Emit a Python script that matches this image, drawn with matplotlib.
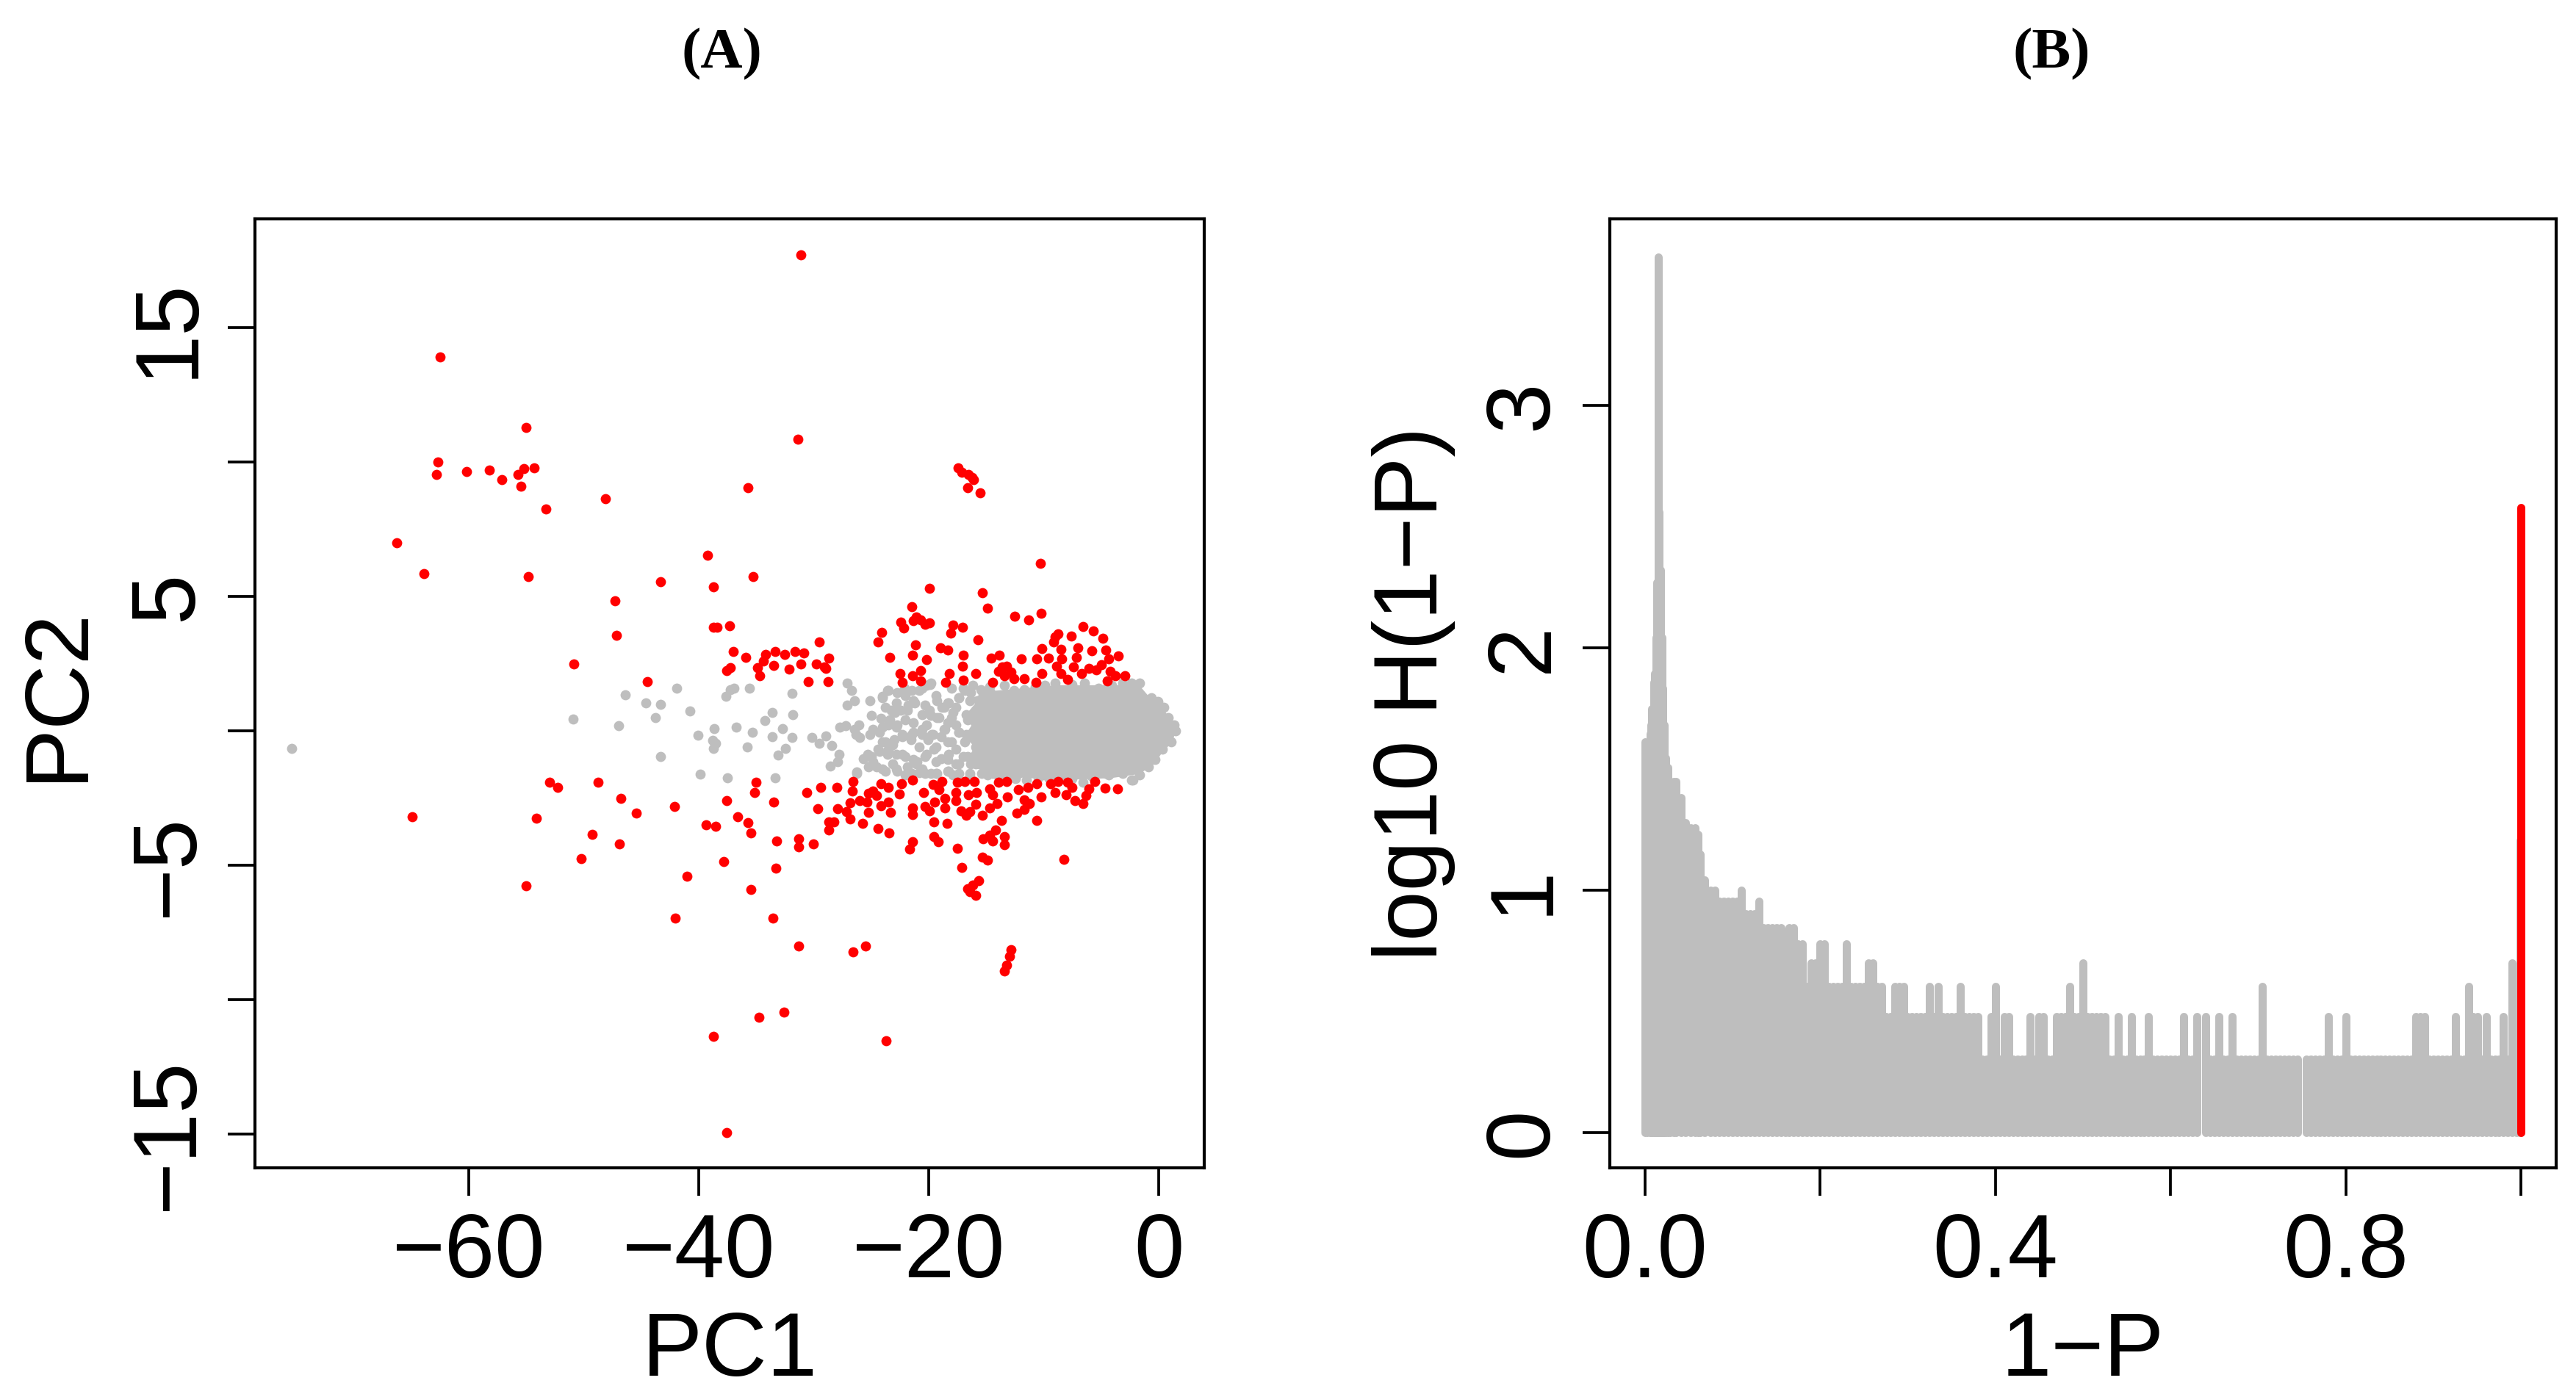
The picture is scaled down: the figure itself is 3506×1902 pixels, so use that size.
import numpy as np
import matplotlib

matplotlib.use("Agg")

import matplotlib.pyplot as plt

plt.rcParams["font.family"] = ["Liberation Sans", "DejaVu Sans"]

GREY = "#BEBEBE"
RED = "#FF0000"
DPI = 300
W_PX, H_PX = 3506, 1902

# ---------------- panel A: PCA scores (PC1, PC2) ----------------
# significant genes, far from the main cloud (PC1 < -30.5)
red_far = [
    (-31.1, 17.7), (-62.5, 13.9), (-55.0, 11.3), (-31.4, 10.85), (-62.7, 10.0),
    (-62.8, 9.55), (-60.2, 9.65), (-58.2, 9.7), (-57.15, 9.35), (-55.7, 9.55),
    (-55.2, 9.75), (-54.3, 9.8), (-55.5, 9.1), (-53.3, 8.25), (-48.1, 8.65),
    (-35.7, 9.05), (-66.3, 7.0), (-63.9, 5.85), (-54.85, 5.75), (-39.25, 6.55),
    (-43.3, 5.55), (-38.7, 5.35), (-35.25, 5.75), (-47.3, 4.85), (-47.15, 3.55),
    (-38.7, 3.85), (-38.4, 3.85), (-37.3, 3.9), (-50.85, 2.5), (-44.5, 1.85),
    (-37.0, 2.95), (-35.9, 2.75), (-37.55, 2.25), (-37.25, 2.35), (-34.9, 2.35),
    (-34.7, 2.05), (-34.4, 2.6), (-34.2, 2.85), (-33.5, 2.45), (-33.35, 2.95),
    (-32.55, 2.85), (-32.15, 2.3), (-31.65, 2.95), (-31.15, 2.5), (-30.9, 2.9),
    (-30.5, 1.85),
    (-64.9, -3.2), (-55.0, -5.75), (-53.0, -1.9), (-52.3, -2.1), (-54.15, -3.25),
    (-48.75, -1.9), (-46.75, -2.5), (-45.45, -3.05), (-49.25, -3.85), (-50.2, -4.75),
    (-46.9, -4.2), (-42.1, -2.8), (-41.0, -5.4), (-42.05, -6.95), (-39.4, -3.5),
    (-38.55, -3.55), (-37.6, -2.6), (-37.85, -4.85), (-36.6, -3.2), (-35.7, -3.4),
    (-35.45, -3.8), (-35.45, -5.9), (-35.15, -2.3), (-35.05, -1.9), (-33.5, -2.65),
    (-33.25, -4.1), (-33.3, -5.1), (-33.55, -6.95), (-31.35, -4.0), (-31.35, -4.3),
    (-31.3, -8.0), (-38.7, -11.35), (-34.75, -10.65), (-32.6, -10.45), (-37.55, -14.95),
    (-30.6, -2.3),
]

# significant genes, upper band and top cluster (PC1 > -30.5)
red_upper = [
    (-17.48, 9.78), (-17.13, 9.63), (-16.58, 9.55), (-16.23, 9.43), (-16.65, 9.06),
    (-16.10, 9.35), (-15.54, 8.86),
    (-29.55, 3.32), (-29.80, 2.50), (-29.06, 2.37), (-28.69, 2.71), (-28.94, 2.32),
    (-28.74, 1.83), (-21.49, 4.62), (-21.12, 4.24), (-20.71, 4.14), (-21.32, 4.10),
    (-20.34, 3.96), (-19.97, 4.01), (-22.43, 4.05), (-22.18, 3.83), (-24.07, 3.67),
    (-24.44, 3.32), (-19.97, 5.31), (-21.15, 3.19), (-21.44, 2.82), (-23.41, 2.73),
    (-20.21, 2.66), (-22.50, 2.14), (-22.30, 1.82), (-20.71, 2.25), (-21.39, 2.05),
    (-20.71, 1.87), (-18.98, 3.10), (-18.37, 3.01), (-17.88, 3.94), (-17.09, 3.85),
    (-18.12, 3.64), (-15.72, 3.40), (-17.02, 2.81), (-17.04, 2.40), (-16.99, 1.89),
    (-15.91, 2.14), (-18.57, 1.82), (-18.25, 2.14), (-15.32, 5.15), (-14.88, 4.56),
    (-12.52, 4.26), (-11.29, 4.13), (-10.26, 4.38), (-10.31, 6.24), (-14.61, 2.70),
    (-13.90, 2.82), (-11.98, 2.69), (-13.65, 2.37), (-13.21, 2.41), (-13.95, 2.23),
    (-12.84, 2.19), (-13.41, 2.05), (-14.44, 1.82), (-12.59, 1.96), (-11.73, 1.94),
    (-10.63, 2.69), (-10.70, 1.82), (-10.14, 3.07), (-9.57, 2.70), (-10.14, 2.14),
    (-9.03, 3.51), (-8.74, 3.60), (-9.15, 3.32), (-8.54, 3.05), (-8.42, 2.69),
    (-8.91, 2.41), (-8.54, 2.14), (-7.92, 1.91), (-7.63, 3.53), (-6.57, 3.89),
    (-5.71, 3.72), (-4.85, 3.46), (-7.06, 3.10), (-5.83, 2.99), (-7.19, 2.73),
    (-7.43, 2.37), (-6.70, 2.14), (-6.08, 2.32), (-5.47, 2.28), (-4.61, 3.01),
    (-4.36, 2.69), (-4.97, 2.46), (-4.24, 2.23), (-3.50, 2.78), (-4.48, 1.87),
    (-3.75, 2.05), (-2.93, 2.05),
]

# significant genes, lower band and tails (PC1 > -30.5)
red_lower = [
    (-29.43, -2.10), (-28.01, -2.10), (-26.61, -1.87), (-26.65, -2.23), (-29.63, -2.89),
    (-27.91, -2.89), (-26.85, -2.67), (-27.17, -3.01), (-26.85, -3.28), (-28.69, -3.37),
    (-28.25, -3.37), (-28.69, -3.69), (-26.04, -2.60), (-25.38, -2.64), (-25.25, -2.32),
    (-24.88, -2.23), (-24.52, -2.41), (-25.25, -3.03), (-25.79, -3.43), (-24.44, -3.64),
    (-23.48, -3.80), (-24.15, -2.78), (-23.34, -3.03), (-24.15, -1.96), (-23.53, -2.10),
    (-23.53, -2.64), (-22.55, -2.34), (-22.35, -1.96), (-21.39, -1.82), (-20.46, -2.28),
    (-21.44, -2.87), (-21.44, -3.12), (-20.34, -2.82), (-19.97, -2.96), (-19.48, -2.64),
    (-19.60, -2.00), (-18.86, -1.87), (-19.11, -2.19), (-18.62, -2.50), (-18.62, -2.87),
    (-19.55, -3.37), (-18.44, -3.43), (-19.55, -3.92), (-19.16, -4.12), (-21.39, -4.13),
    (-21.69, -4.40), (-17.51, -4.37), (-17.14, -5.07), (-17.51, -1.91), (-16.85, -1.87),
    (-16.04, -1.87), (-17.63, -2.28), (-17.63, -2.60), (-16.58, -2.37), (-15.86, -2.28),
    (-15.91, -2.73), (-17.19, -2.96), (-16.77, -3.14), (-16.40, -3.01), (-15.37, -3.14),
    (-14.68, -2.87), (-14.07, -2.69), (-14.68, -2.14), (-13.95, -1.91), (-13.21, -1.87),
    (-14.44, -2.37), (-13.16, -2.46), (-13.70, -3.32), (-14.19, -3.69), (-14.68, -3.87),
    (-15.30, -4.01), (-14.44, -4.10), (-13.45, -3.92), (-13.40, -4.24), (-15.37, -4.69),
    (-14.93, -4.80), (-12.23, -2.19), (-11.73, -2.55), (-11.24, -2.69), (-12.35, -3.05),
    (-11.73, -2.92), (-10.63, -1.96), (-11.37, -2.10), (-10.26, -2.46), (-10.63, -3.32),
    (-9.40, -1.96), (-8.78, -1.87), (-9.03, -2.28), (-7.92, -1.91), (-7.55, -2.10),
    (-8.05, -2.37), (-7.31, -2.60), (-6.62, -2.71), (-6.33, -2.41), (-6.08, -2.14),
    (-5.59, -1.89), (-4.65, -2.12), (-3.57, -2.14), (-8.24, -4.78), (-30.02, -4.20),
    (-26.56, -8.22), (-25.50, -8.00), (-23.73, -11.52), (-16.65, -5.87), (-16.16, -5.74),
    (-15.67, -5.56), (-15.91, -6.10), (-16.40, -5.97), (-12.84, -8.13), (-13.01, -8.38),
    (-13.21, -8.70), (-13.40, -8.93),
]

# non-significant genes, sparse left part
grey_far = [
    (-75.4, -0.65), (-50.95, 0.45), (-47.0, 0.2), (-46.4, 1.35), (-44.6, 1.05),
    (-43.35, 1.0), (-43.75, 0.5), (-41.95, 1.6), (-40.8, 0.75), (-43.35, -0.95),
    (-40.1, -0.15), (-38.65, 0.1), (-38.8, -0.35), (-38.55, -0.45), (-38.7, -0.65),
    (-37.65, 1.3), (-37.25, 1.55), (-36.95, 1.6), (-36.75, 0.15), (-35.6, 1.6),
    (-35.8, -0.6), (-35.35, -0.05), (-34.25, 0.4), (-33.6, 0.7), (-33.6, -0.2),
    (-33.1, -0.9), (-32.75, 0.1), (-32.45, -0.65), (-31.9, 1.4), (-31.8, 0.6),
    (-31.9, -0.25), (-39.9, -1.6), (-37.5, -1.75), (-33.35, -1.75),
]

# non-significant genes, patchy middle part of the cloud
grey_mid = [
    (-30.17, -0.23), (-29.55, -0.45), (-28.94, -0.18), (-28.45, -0.55), (-27.83, -0.87),
    (-27.96, -1.14), (-28.57, -1.30), (-27.10, 1.78), (-26.73, 1.50), (-26.48, 1.14),
    (-27.10, 0.96), (-25.13, 1.14), (-25.01, 0.57), (-27.71, 0.14), (-27.22, 0.21),
    (-26.48, 0.05), (-26.11, 0.23), (-25.99, -0.23), (-26.28, -1.52), (-25.13, -0.14),
    (-24.88, 0.05), (-24.02, 1.28), (-23.53, 1.50), (-23.78, 0.87), (-24.15, 0.46),
    (-23.29, 0.77), (-22.79, 1.05), (-22.06, 1.32), (-22.43, 0.77), (-21.81, 0.96),
    (-21.32, 1.14), (-20.83, 1.50), (-20.21, 1.69), (-19.85, 1.78), (-19.35, 1.32),
    (-18.86, 0.87), (-19.11, 0.50), (-18.37, 1.05), (-17.88, 0.68), (-17.39, 1.23),
    (-16.90, 1.50), (-16.40, 1.14), (-16.16, 1.69), (-15.30, 1.37), (-14.93, 0.96),
    (-15.91, 0.77), (-16.65, 0.41), (-17.63, 0.23), (-18.62, 0.05), (-19.60, -0.14),
    (-20.58, 0.05), (-21.32, 0.32), (-22.06, 0.41), (-22.79, 0.14), (-23.53, 0.23),
    (-24.27, -0.05), (-23.78, -0.41), (-23.04, -0.32), (-22.30, -0.14), (-21.57, -0.32),
    (-20.83, -0.59), (-20.09, -0.32), (-19.35, -0.59), (-18.37, -0.41), (-17.63, -0.68),
    (-16.40, -0.14), (-15.42, 0.05), (-14.93, -0.41), (-15.91, -0.59), (-16.65, -0.96),
    (-17.39, -1.23), (-18.37, -1.05), (-19.35, -1.14), (-20.34, -0.96), (-21.32, -1.05),
    (-22.06, -0.96), (-22.79, -0.87), (-23.53, -0.68), (-24.27, -0.77), (-25.01, -0.96),
    (-25.25, -1.32), (-24.52, -1.32), (-23.78, -1.50), (-22.79, -1.41), (-21.81, -1.50),
    (-21.07, -1.23), (-20.34, -1.59), (-19.35, -1.59), (-18.37, -1.50), (-17.39, -1.59),
    (-16.40, -1.69), (-15.42, -1.59), (-14.44, -1.59), (-14.93, -1.05), (-15.91, -1.23),
    (-14.68, -0.68), (-18.37, 0.32), (-19.85, 0.59), (-20.34, 0.96), (-21.32, -0.05),
    (-16.90, -0.41), (-15.67, 0.32), (-17.39, -0.05),
    (-26.24, -1.59), (-22.06, -1.64), (-20.83, -1.55), (-19.85, -1.59), (-17.88, -1.64),
    (-16.40, -1.59), (-14.93, -1.64), (-26.36, -0.13),
    # denser fill between PC1 = -26 and -15
    (-23.59, 1.51), (-24.01, 1.23), (-22.74, 1.42), (-22.10, 1.60), (-21.46, 1.51),
    (-20.60, 1.60), (-19.86, 1.73), (-19.33, 1.14), (-18.69, 0.87), (-18.26, 1.05),
    (-18.05, 1.60), (-17.41, 1.23), (-16.98, 1.60), (-16.34, 1.42), (-15.49, 1.55),
    (-14.64, 1.42), (-24.01, 0.14), (-23.37, 0.41), (-22.74, 0.23), (-22.95, 0.69),
    (-21.88, 0.78), (-21.24, 1.05), (-20.60, 0.60), (-19.97, 0.78), (-20.18, 0.23),
    (-19.33, 0.50), (-18.69, 0.05), (-18.05, 0.50), (-17.62, 0.87), (-16.77, 0.60),
    (-24.01, -0.41), (-23.16, -0.50), (-22.31, -0.22), (-21.46, -0.13), (-20.60, -0.13),
    (-19.75, -0.13), (-18.90, -0.22), (-18.05, -0.41), (-17.41, -0.04), (-16.77, -0.13),
    (-25.29, -0.86), (-24.87, -1.14), (-24.01, -1.41), (-23.16, -1.23), (-22.31, -0.86),
    (-21.88, -1.32), (-21.03, -1.14), (-20.18, -0.86), (-19.54, -0.68), (-18.90, -1.04),
    (-18.26, -0.86), (-17.62, -1.23), (-16.98, -0.95), (-16.34, -1.23), (-23.59, -0.86),
    (-22.74, -1.50), (-21.46, -1.59), (-19.33, -1.59), (-18.26, -1.50), (-20.60, -1.41),
    (-24.44, -0.68), (-25.72, -1.04),
]

# non-significant genes along the rim of the dense core
grey_rim = [
    (-14.68, 1.64), (-13.45, 1.69), (-12.59, 1.50), (-11.73, 1.55), (-10.75, 1.64),
    (-9.89, 1.69), (-9.03, 1.78), (-7.55, 1.73), (-6.45, 1.78), (-5.22, 1.58),
    (-4.11, 1.69), (-3.13, 1.78), (-2.39, 1.78), (-1.66, 1.79), (-0.67, 1.23),
    (-0.06, 1.09), (0.43, 0.87), (0.80, 0.50), (1.30, 0.23), (1.49, 0.0),
    (-2.27, -1.82), (-3.13, -1.59), (-4.36, -1.64), (-5.83, -1.69), (-6.57, -1.91),
    (-7.55, -1.78), (-8.54, -1.73), (-9.52, -1.78), (-10.50, -1.73), (-11.49, -1.82),
    (-12.47, -1.78), (-13.21, -1.73), (-13.95, -1.69), (-0.92, -1.32), (-0.30, -1.05),
    (0.31, -0.68), (1.05, -0.41), (-12.23, -1.59), (-10.01, -1.64), (-6.57, -1.59),
    (-4.61, -1.59), (-2.39, -1.82), (-1.66, -1.64),
]

# outline of the saturated core of the grey cloud (points fully overlapping)
core_pc1 = [-16.2, -14.2, -11.5, -9.0, -6.6, -4.1, -1.7, -0.7, 0.5, 1.3, 1.45, 1.2, 0.3,
            -0.45, -1.7, -4.1, -6.6, -9.0, -11.5, -14.0, -15.8, -16.6, -16.0, -16.9,
            -16.3, -16.8, -16.0]
core_pc2 = [1.25, 1.5, 1.6, 1.7, 1.7, 1.7, 1.7, 1.2, 0.75, 0.25, 0.0, -0.4, -0.8,
            -1.25, -1.6, -1.75, -1.8, -1.8, -1.75, -1.65, -1.4, -1.0, -0.6, -0.2,
            0.2, 0.6, 1.0]

# ---------------- panel B: log10 histogram of 1-P ----------------
# fine bins around the peak near 0
head_x = [0.000, 0.003, 0.006, 0.007, 0.008, 0.010, 0.011, 0.013, 0.014, 0.0154,
          0.0164, 0.0178, 0.0192, 0.0206, 0.0220, 0.0234, 0.0262, 0.0290, 0.0330, 0.0354,
          0.0410, 0.0460, 0.0520, 0.0570, 0.0610, 0.0634, 0.0680, 0.0750]
head_counts = [41, 40, 44, 48, 56, 72, 78, 110, 186, 4100,
               363, 209, 110, 68, 48, 35, 32, 28, 28, 28,
               24, 19, 18, 18, 17, 14, 11, 10]

# counts on 0.005 bins from 1-P = 0.080 to 0.995
tail_start, tail_step = 0.080, 0.005
tail_counts = [
    10, 9, 9, 9, 9, 9, 10, 8, 8, 8, 9, 7, 7, 7, 7, 7, 6, 7, 7, 6,   # 0.080-0.175
    6, 4, 5, 5, 6, 6, 4, 4, 4, 4, 6, 4, 4, 4, 4, 5, 5, 4, 4, 3,     # 0.180-0.275
    3, 4, 4, 4, 3, 3, 3, 3, 3, 4, 3, 4, 3, 3, 3, 3, 4, 3, 3, 3,     # 0.280-0.375
    3, 2, 2, 3, 4, 2, 3, 3, 2, 2, 2, 2, 3, 2, 3, 3, 2, 2, 3, 3,     # 0.380-0.475
    3, 4, 3, 3, 5, 3, 3, 3, 3, 3, 2, 2, 3, 2, 2, 3, 2, 2, 2, 3,     # 0.480-0.575
    2, 2, 2, 2, 2, 2, 2, 3, 2, 2, 3, 1, 3, 2, 2, 3, 2, 2, 3, 2,     # 0.580-0.675
    2, 2, 2, 2, 2, 4, 2, 2, 2, 2, 2, 2, 2, 2, 1, 2, 2, 2, 2, 2,     # 0.680-0.775
    3, 2, 2, 2, 3, 2, 2, 2, 2, 2, 2, 2, 2, 2, 2, 2, 2, 2, 2, 2,     # 0.780-0.875
    3, 3, 3, 2, 2, 2, 2, 2, 2, 3, 2, 2, 4, 3, 3, 2, 3, 2, 2, 2,     # 0.880-0.975
    3, 2, 5, 2,                                                     # 0.980-0.995
]
edge_x, edge_count = 0.9985, 16
top_x, top_count = 1.0, 380   # P = 0, highlighted

# ---------------- figure ----------------
fig = plt.figure(figsize=(W_PX / DPI, H_PX / DPI), dpi=DPI, facecolor="white")


def px_axes(left, top, right, bottom):
    return fig.add_axes([left / W_PX, 1 - bottom / H_PX,
                         (right - left) / W_PX, (bottom - top) / H_PX])


FS = 29.5
TICK_LEN = 9.0


def style_axes(ax):
    for sp in ax.spines.values():
        sp.set_linewidth(1.0)
        sp.set_color("black")
    ax.tick_params(axis="x", direction="out", length=TICK_LEN, width=0.9,
                   labelsize=FS, pad=5.5)
    ax.tick_params(axis="y", direction="out", length=TICK_LEN, width=0.9,
                   labelsize=FS, pad=11.5)
    for lab in ax.get_yticklabels():
        lab.set_rotation(90)
        lab.set_rotation_mode("anchor")
        lab.set_horizontalalignment("center")
        lab.set_verticalalignment("baseline")


def label_axes(ax, xlabel, ylabel):
    ax.text(0.5, -283 / 1292, xlabel, transform=ax.transAxes, fontsize=FS,
            ha="center", va="baseline")
    ax.text(-236 / 1292, 0.5, ylabel, transform=ax.transAxes, fontsize=FS,
            rotation=90, rotation_mode="anchor", ha="center", va="baseline")


# panel A
ax1 = px_axes(347, 298, 1639, 1590)
ax1.fill(core_pc1, core_pc2, color=GREY, lw=0, zorder=1)
grey_pts = np.array(grey_far + grey_mid + grey_rim)
red_pts = np.array(red_far + red_upper + red_lower)
ax1.scatter(grey_pts[:, 0], grey_pts[:, 1], s=11, c=GREY, linewidths=0, zorder=2)
ax1.scatter(red_pts[:, 0], red_pts[:, 1], s=11, c=RED, linewidths=0, zorder=3)
ax1.set_xlim(-78.6, 3.95)
ax1.set_ylim(-16.25, 19.05)
ax1.set_xticks([-60, -40, -20, 0])
ax1.set_xticklabels(["\u221260", "\u221240", "\u221220", "0"])
ax1.set_yticks([-15, -10, -5, 0, 5, 10, 15])
ax1.set_yticklabels(["\u221215", "", "\u22125", "", "5", "", "15"])
style_axes(ax1)
label_axes(ax1, "PC1", "PC2")

# panel B
ax2 = px_axes(2191, 298, 3479, 1590)
tail_x = tail_start + tail_step * np.arange(len(tail_counts))
bar_x = np.concatenate([head_x, tail_x, [edge_x]])
bar_n = np.concatenate([head_counts, tail_counts, [edge_count]]).astype(float)
lw_bar = 11 * 72 / DPI
ax2.vlines(bar_x, 0, np.log10(bar_n), colors=GREY, linewidth=lw_bar,
           capstyle="round", zorder=2)
ax2.vlines([top_x], 0, np.log10([top_count]), colors=RED, linewidth=lw_bar,
           capstyle="round", zorder=3)
ax2.set_xlim(-0.04, 1.04)
ax2.set_ylim(-0.147, 3.77)
ax2.set_xticks([0.0, 0.2, 0.4, 0.6, 0.8, 1.0])
ax2.set_xticklabels(["0.0", "", "0.4", "", "0.8", ""])
ax2.set_yticks([0, 1, 2, 3])
ax2.set_yticklabels(["0", "1", "2", "3"])
style_axes(ax2)
label_axes(ax2, "1\u2212P", "log10 H(1\u2212P)")

# panel tags
for xc, tag in ((982, "(A)"), (2792, "(B)")):
    fig.text(xc / W_PX, 1 - 92 / H_PX, tag, ha="center", va="baseline",
             fontsize=19, fontweight="bold", family=["Liberation Serif", "DejaVu Serif"])

fig.savefig("out.png", dpi=DPI, facecolor="white")
